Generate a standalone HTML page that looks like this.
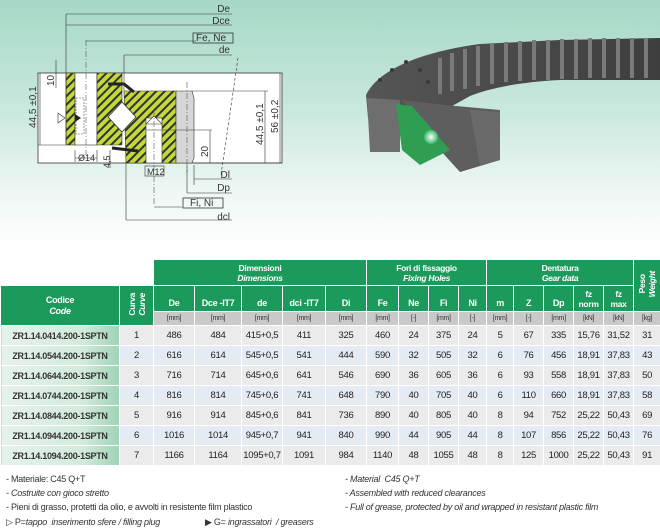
<!DOCTYPE html>
<html><head><meta charset="utf-8">
<style>
*{margin:0;padding:0;box-sizing:border-box}
body{width:660px;height:530px;overflow:hidden;background:#fff;font-family:"Liberation Sans",sans-serif;position:relative}
#top{position:absolute;left:0;top:0;width:660px;height:240px;background:linear-gradient(#a6d8c6 0%,#c8e8dc 45%,#eef7f3 80%,#fbfdfc 100%)}
table{position:absolute;left:0;top:259px;border-collapse:collapse;table-layout:fixed;width:660px}
td{border:1px solid #fff;text-align:center;font-size:9px;color:#222;padding:0;overflow:hidden;white-space:nowrap;letter-spacing:-0.3px}
.g{background:#1c9a5c;color:#fff;font-weight:bold}
.g i{font-weight:bold}
.u{background:#c9c9c9;color:#333;font-size:7px;height:14px}
tr.d td{height:20px;font-size:9.5px}
tr.a td{background:#ebebeb}
tr.b td{background:#e4ebf3}
tr.d td.c{background:linear-gradient(90deg,#e6f2ec 0%,#d2eadc 70%,#9fd3b6 100%);font-weight:bold;font-size:9px;color:#333}
.v{writing-mode:vertical-rl;transform:rotate(180deg);font-size:8.5px;line-height:10px;display:inline-block}
#foot{position:absolute;left:0;top:472px;width:660px;font-size:9px;color:#333;letter-spacing:-0.25px}
#foot div{position:absolute;white-space:nowrap}
</style></head><body>
<div id="top">
<svg width="660" height="240" viewBox="0 0 660 240" xmlns="http://www.w3.org/2000/svg">
<defs>
<pattern id="h" width="6" height="6" patternUnits="userSpaceOnUse" patternTransform="rotate(45)">
<rect width="6" height="6" fill="#c5d83a"/><rect width="2" height="6" fill="#333"/></pattern>
<radialGradient id="rg" cx="0.5" cy="0.5" r="0.5"><stop offset="0" stop-color="#fff"/><stop offset="1" stop-color="#3bb86a"/></radialGradient>
<linearGradient id="gr" x1="0" y1="0" x2="1" y2="0"><stop offset="0" stop-color="#555"/><stop offset="1" stop-color="#3e3e3e"/></linearGradient>
</defs>
<rect x="38" y="73" width="244" height="90" fill="#fff" stroke="#333" stroke-width="0.8"/>
<line x1="238" y1="58" x2="221" y2="175" stroke="#333" stroke-width="0.6" stroke-dasharray="3,2"/>
<rect x="66" y="73" width="9" height="72" fill="url(#h)" stroke="#333" stroke-width="0.6"/>
<rect x="75" y="73" width="22" height="72" fill="#fff" stroke="#333" stroke-width="0.6"/>
<rect x="76" y="98" width="8" height="36" fill="none" stroke="#555" stroke-dasharray="2,1" stroke-width="0.6"/>
<polygon points="97,73 122,73 122,145 97,145" fill="url(#h)" stroke="#333" stroke-width="0.6"/>
<polygon points="124,91 176,91 176,163 126,163" fill="url(#h)" stroke="#333" stroke-width="0.6"/>
<polygon points="122,102 108,117 122,132 136,117" fill="#fff" stroke="#333" stroke-width="0.8"/>
<rect x="146" y="118" width="16" height="45" fill="#fff" stroke="#333" stroke-width="0.6"/>
<polygon points="146,124 154,116 162,124" fill="#fff" stroke="#333" stroke-width="0.6"/>
<polygon points="176,91 192,91 194,98 194,158 192,163 176,163" fill="#d6d6d6" stroke="#333" stroke-width="0.6"/>
<path d="M108,84 L124,84 L134,92" stroke="#222" stroke-width="3" fill="none"/>
<path d="M112,148 L138,151" stroke="#222" stroke-width="3" fill="none"/>
<line x1="187" y1="82" x2="187" y2="172" stroke="#555" stroke-width="0.6" stroke-dasharray="6,2,1,2"/>
<line x1="86" y1="40" x2="86" y2="155" stroke="#555" stroke-width="0.6" stroke-dasharray="6,2,1,2"/>
<line x1="154" y1="110" x2="154" y2="205" stroke="#555" stroke-width="0.6" stroke-dasharray="6,2,1,2"/>
<g stroke="#333" stroke-width="0.6" fill="none">
<line x1="66" y1="14" x2="66" y2="145"/><line x1="66" y1="14" x2="232" y2="14"/>
<line x1="66" y1="25" x2="232" y2="25"/>
<line x1="86" y1="41" x2="196" y2="41"/>
<line x1="124" y1="55" x2="232" y2="55"/><line x1="124" y1="55" x2="124" y2="91"/>
<line x1="194" y1="165" x2="194" y2="185"/><line x1="194" y1="179" x2="232" y2="179"/>
<line x1="187" y1="165" x2="187" y2="193"/><line x1="187" y1="193" x2="232" y2="193"/>
<line x1="154" y1="207" x2="182" y2="207"/>
<line x1="126" y1="163" x2="126" y2="220"/><line x1="126" y1="220" x2="232" y2="220"/>
<line x1="40" y1="73" x2="40" y2="145"/><line x1="56" y1="60" x2="56" y2="88"/>
<line x1="265" y1="91" x2="265" y2="163"/><line x1="280" y1="73" x2="280" y2="163"/>
<line x1="192" y1="91" x2="268" y2="91"/><line x1="194" y1="163" x2="282" y2="163"/>
<line x1="210" y1="130" x2="210" y2="163"/><line x1="146" y1="130" x2="212" y2="130"/>
<line x1="75" y1="150" x2="75" y2="162"/><line x1="97" y1="150" x2="97" y2="162"/><line x1="75" y1="158" x2="97" y2="158"/>
<line x1="38" y1="145" x2="66" y2="145"/>
<line x1="110" y1="150" x2="110" y2="168"/>
</g>
<rect x="193" y="33" width="40" height="10" fill="none" stroke="#333" stroke-width="0.8"/>
<rect x="183" y="198" width="40" height="10" fill="none" stroke="#333" stroke-width="0.8"/>
<rect x="145" y="166" width="19" height="10" fill="none" stroke="#333" stroke-width="0.6"/>
<polygon points="58,113 65,118 58,123" fill="#fff" stroke="#333" stroke-width="0.6"/>
<polygon points="75,114 81,118 75,122" fill="#222"/>
<g font-family="Liberation Sans,sans-serif" font-size="10" fill="#333">
<text x="230" y="12" text-anchor="end">De</text>
<text x="230" y="24" text-anchor="end">Dce</text>
<text x="196" y="41">Fe, Ne</text>
<text x="230" y="53" text-anchor="end">de</text>
<text x="230" y="178" text-anchor="end">Dl</text>
<text x="230" y="191" text-anchor="end">Dp</text>
<text x="190" y="206">Fi, Ni</text>
<text x="230" y="220" text-anchor="end">dcl</text>
<text x="147" y="175" font-size="9">M12</text>
<text x="78" y="161" font-size="9">Ø14</text>
<text transform="translate(36,128) rotate(-90)">44,5 ±0,1</text>
<text transform="translate(54,86) rotate(-90)">10</text>
<text transform="translate(263,145) rotate(-90)">44,5 ±0,1</text>
<text transform="translate(278,133) rotate(-90)">56 ±0,2</text>
<text transform="translate(208,157) rotate(-90)">20</text>
<text transform="translate(110,168) rotate(-90)" font-size="9">4,5</text>
</g>
<!-- bearing render -->
<path d="M366,95 C378,70 420,52 480,44 L560,40 L660,38 L660,80 L560,80 C520,82 490,88 470,96 L445,110 L368,118 Z" fill="url(#gr)"/>
<g fill="#7a7a7a">
<rect x="438" y="58" width="4" height="36"/><rect x="450" y="53" width="4" height="38"/><rect x="463" y="49" width="4" height="40"/><rect x="476" y="46" width="4" height="40"/><rect x="490" y="44" width="4" height="40"/><rect x="504" y="42" width="4" height="40"/><rect x="518" y="41" width="4" height="40"/><rect x="532" y="40" width="4" height="40"/><rect x="546" y="40" width="4" height="40"/><rect x="560" y="39" width="4" height="40"/><rect x="574" y="39" width="4" height="40"/><rect x="588" y="38" width="4" height="40"/><rect x="602" y="38" width="4" height="40"/><rect x="616" y="38" width="4" height="40"/><rect x="630" y="38" width="4" height="40"/><rect x="644" y="38" width="4" height="40"/>
</g>
<g fill="#3a3a3a"><circle cx="380" cy="80" r="2"/><circle cx="392" cy="70" r="2"/><circle cx="406" cy="62" r="2"/><circle cx="420" cy="70" r="2"/><circle cx="428" cy="82" r="2"/></g>
<path d="M367,98 L400,100 L400,152 L370,152 Z" fill="#6e6e6e"/>
<path d="M402,100 L445,105 L500,110 L500,160 L460,172 L440,150 Z" fill="#5e5e5e"/>
<path d="M470,110 L500,112 L500,160 L480,165 Z" fill="#6a6a6a"/>
<path d="M396,104 L412,106 L450,150 L420,165 L402,150 Z" fill="#2f9e52"/>
<circle cx="431" cy="137" r="7" fill="url(#rg)"/>
</svg>
</div>

<table>
<colgroup><col style="width:119px"><col style="width:34px"><col style="width:41px"><col style="width:47px"><col style="width:41px"><col style="width:43px"><col style="width:41px"><col style="width:32px"><col style="width:30px"><col style="width:30px"><col style="width:28px"><col style="width:27px"><col style="width:30px"><col style="width:30px"><col style="width:30px"><col style="width:30px"><col style="width:27px"></colgroup>
<tr style="height:26px"><td style="background:#fff"></td><td style="background:#fff"></td>
<td class="g" colspan="5" style="font-size:8.5px;line-height:10px">Dimensioni<br><i>Dimensions</i></td>
<td class="g" colspan="4" style="font-size:8.5px;line-height:10px">Fori di fissaggio<br><i>Fixing Holes</i></td>
<td class="g" colspan="5" style="font-size:8.5px;line-height:10px">Dentatura<br><i>Gear data</i></td>
<td class="g" rowspan="2"><span class="v">Peso<br><i>Weight</i></span></td></tr>
<tr style="height:26px"><td class="g" rowspan="2" style="font-size:9px;line-height:11px">Codice<br><i>Code</i></td>
<td class="g" rowspan="2"><span class="v">Curva<br><i>Curve</i></span></td>
<td class="g" style="vertical-align:bottom;padding-bottom:3px">De</td><td class="g" style="vertical-align:bottom;padding-bottom:3px">Dce -IT7</td><td class="g" style="vertical-align:bottom;padding-bottom:3px">de</td><td class="g" style="vertical-align:bottom;padding-bottom:3px">dci -IT7</td><td class="g" style="vertical-align:bottom;padding-bottom:3px">Di</td>
<td class="g" style="vertical-align:bottom;padding-bottom:3px">Fe</td><td class="g" style="vertical-align:bottom;padding-bottom:3px">Ne</td><td class="g" style="vertical-align:bottom;padding-bottom:3px">Fi</td><td class="g" style="vertical-align:bottom;padding-bottom:3px">Ni</td>
<td class="g" style="vertical-align:bottom;padding-bottom:3px">m</td><td class="g" style="vertical-align:bottom;padding-bottom:3px">Z</td><td class="g" style="vertical-align:bottom;padding-bottom:3px">Dp</td><td class="g" style="line-height:10px;font-size:8.5px">fz<br>norm</td><td class="g" style="line-height:10px;font-size:8.5px">fz<br>max</td></tr>
<tr><td class="u">[mm]</td><td class="u">[mm]</td><td class="u">[mm]</td><td class="u">[mm]</td><td class="u">[mm]</td><td class="u">[mm]</td><td class="u">[-]</td><td class="u">[mm]</td><td class="u">[-]</td><td class="u">[mm]</td><td class="u">[-]</td><td class="u">[mm]</td><td class="u">[kN]</td><td class="u">[kN]</td><td class="u">[kg]</td></tr>
<tr class="d a"><td class="c">ZR1.14.0414.200-1SPTN</td><td>1</td><td>486</td><td>484</td><td>415+0,5</td><td>411</td><td>325</td><td>460</td><td>24</td><td>375</td><td>24</td><td>5</td><td>67</td><td>335</td><td>15,76</td><td>31,52</td><td>31</td></tr>
<tr class="d b"><td class="c">ZR1.14.0544.200-1SPTN</td><td>2</td><td>616</td><td>614</td><td>545+0,5</td><td>541</td><td>444</td><td>590</td><td>32</td><td>505</td><td>32</td><td>6</td><td>76</td><td>456</td><td>18,91</td><td>37,83</td><td>43</td></tr>
<tr class="d a"><td class="c">ZR1.14.0644.200-1SPTN</td><td>3</td><td>716</td><td>714</td><td>645+0,6</td><td>641</td><td>546</td><td>690</td><td>36</td><td>605</td><td>36</td><td>6</td><td>93</td><td>558</td><td>18,91</td><td>37,83</td><td>50</td></tr>
<tr class="d b"><td class="c">ZR1.14.0744.200-1SPTN</td><td>4</td><td>816</td><td>814</td><td>745+0,6</td><td>741</td><td>648</td><td>790</td><td>40</td><td>705</td><td>40</td><td>6</td><td>110</td><td>660</td><td>18,91</td><td>37,83</td><td>58</td></tr>
<tr class="d a"><td class="c">ZR1.14.0844.200-1SPTN</td><td>5</td><td>916</td><td>914</td><td>845+0,6</td><td>841</td><td>736</td><td>890</td><td>40</td><td>805</td><td>40</td><td>8</td><td>94</td><td>752</td><td>25,22</td><td>50,43</td><td>69</td></tr>
<tr class="d b"><td class="c">ZR1.14.0944.200-1SPTN</td><td>6</td><td>1016</td><td>1014</td><td>945+0,7</td><td>941</td><td>840</td><td>990</td><td>44</td><td>905</td><td>44</td><td>8</td><td>107</td><td>856</td><td>25,22</td><td>50,43</td><td>76</td></tr>
<tr class="d a"><td class="c">ZR1.14.1094.200-1SPTN</td><td>7</td><td>1166</td><td>1164</td><td>1095+0,7</td><td>1091</td><td>984</td><td>1140</td><td>48</td><td>1055</td><td>48</td><td>8</td><td>125</td><td>1000</td><td>25,22</td><td>50,43</td><td>91</td></tr>
</table>

<div id="foot">
<div style="left:6px;top:2px">- Materiale: C45 Q+T</div>
<div style="left:6px;top:16px"><i>- Costruite con gioco stretto</i></div>
<div style="left:6px;top:30px">- Pieni di grasso, protetti da olio, e avvolti in resistente film plastico</div>
<div style="left:6px;top:45px">▷ P=<i>tappo&nbsp; inserimento sfere / filling plug</i></div>
<div style="left:205px;top:45px">▶ G= <i>ingrassatori&nbsp; / greasers</i></div>
<div style="left:345px;top:2px"><i>- Material&nbsp; C45 Q+T</i></div>
<div style="left:345px;top:16px"><i>- Assembled with reduced clearances</i></div>
<div style="left:345px;top:30px"><i>- Full of grease, protected by oil and wrapped in resistant plastic film</i></div>
</div>
</body></html>
